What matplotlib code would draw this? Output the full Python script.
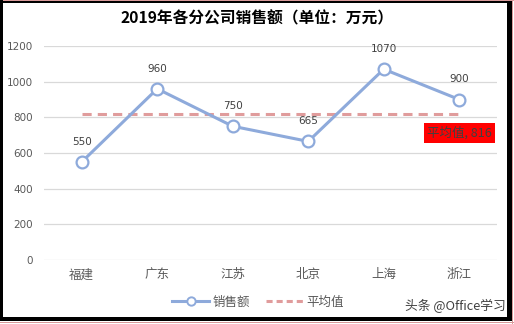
import matplotlib
matplotlib.use("Agg")
import matplotlib.pyplot as plt
from matplotlib.patches import Rectangle
from matplotlib.lines import Line2D

plt.rcParams['font.family'] = ['Noto Sans CJK SC', 'DejaVu Sans']

categories = ['福建', '广东', '江苏', '北京', '上海', '浙江']
sales = [550, 960, 750, 665, 1070, 900]
avg_value = 816
yticks = [0, 200, 400, 600, 800, 1000, 1200]
title = '2019年各分公司销售额（单位：万元）'

W, H = 514, 324
fig = plt.figure(figsize=(W/100, H/100), dpi=100)
fig.patch.set_facecolor('white')

ax = fig.add_axes([44/W, 1-260/H, 453/W, (260-46)/H])
x = list(range(len(categories)))
line_c = '#8EAADB'
avg_c = '#E09C9C'

ax.plot(x, sales, color=line_c, lw=2.2, marker='o', ms=8.5, mfc='white',
        mec=line_c, mew=1.6, zorder=3)
ax.plot(x, [avg_value]*len(x), color=avg_c, lw=2.2, ls=(0, (3, 2)), zorder=2)

for xi, v in zip(x, sales):
    ax.annotate(str(v), (xi, v), xytext=(0, 11), textcoords='offset points',
                ha='center', va='bottom', fontsize=7.5, color='#404040',
                family='DejaVu Sans')

ax.text(4.57, avg_value-104, f'平均值, {avg_value}', ha='left', va='center',
        fontsize=9, color='#404040',
        bbox=dict(boxstyle='square,pad=0.25', fc='#FF0000', ec='none'))

ax.set_xlim(-0.5, len(x)-0.5)
ax.set_ylim(0, 1200)
ax.set_yticks(yticks)
ax.set_yticklabels([str(t) for t in yticks], fontsize=7.5, color='#595959',
                   family='DejaVu Sans')
ax.set_xticks(x)
ax.set_xticklabels(categories, fontsize=9, color='#595959')
ax.tick_params(length=0, pad=8)
ax.tick_params(axis='x', pad=6)
ax.grid(axis='y', color='#D9D9D9', lw=0.9)
ax.set_axisbelow(True)
for s in ax.spines.values():
    s.set_visible(False)

fig.text(0.5, 1-18/H, title, ha='center', va='center', fontsize=11.3,
         fontweight='bold', color='#000000')

handles = [Line2D([], [], color=line_c, lw=2.2, marker='o', ms=6, mfc='white',
                  mec=line_c, mew=1.4),
           Line2D([], [], color=avg_c, lw=2.2, ls=(0, (2, 1.3)))]
fig.legend(handles, ['销售额', '平均值'], loc='center', bbox_to_anchor=(258/W, 1-302/H),
           ncol=2, frameon=False, fontsize=9, handlelength=3.0, handletextpad=0.3,
           columnspacing=1.2, labelcolor='#595959')

fig.text(1-8/W, 1-306/H, '头条 @Office学习', ha='right', va='center',
         fontsize=9.2, color='#404040')

# borders
def frect(x0, y0, w, h, c):
    fig.patches.append(Rectangle((x0/W, 1-(y0+h)/H), w/W, h/H, transform=fig.transFigure,
                                 fc=c, ec='none', zorder=10))
frect(0, 0, W, 1.2, '#D99A9A')
frect(0, 1.2, W-7, 1.5, '#000000')
frect(0, 0, 3, H-4, '#000000')
frect(W-7, 1.2, 4.5, H-4, '#000000')
frect(0, H-7.5, W-3, 4, '#000000')
frect(0, H-2.5, W, 1.5, '#D99A9A')
frect(W-2.5, 0, 1.5, H, '#D99A9A')

fig.savefig('out.png', dpi=100)
